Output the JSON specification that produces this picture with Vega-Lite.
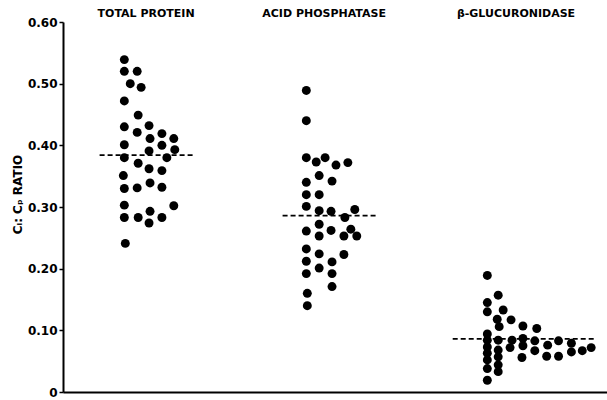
{
  "$schema": "https://vega.github.io/schema/vega-lite/v6.json",
  "width": 544,
  "height": 370,
  "autosize": "none",
  "padding": {"left": 63, "top": 22, "right": 0, "bottom": 8},
  "background": "white",
  "config": {"view": {"stroke": null}, "font": "DejaVu Sans"},
  "datasets": {
    "points": [
      {"group": "TOTAL PROTEIN", "pos": 62, "ratio": 0.539},
      {"group": "TOTAL PROTEIN", "pos": 62, "ratio": 0.520},
      {"group": "TOTAL PROTEIN", "pos": 75, "ratio": 0.520},
      {"group": "TOTAL PROTEIN", "pos": 68, "ratio": 0.500},
      {"group": "TOTAL PROTEIN", "pos": 79, "ratio": 0.494},
      {"group": "TOTAL PROTEIN", "pos": 62, "ratio": 0.472},
      {"group": "TOTAL PROTEIN", "pos": 76, "ratio": 0.449},
      {"group": "TOTAL PROTEIN", "pos": 62, "ratio": 0.430},
      {"group": "TOTAL PROTEIN", "pos": 87, "ratio": 0.432},
      {"group": "TOTAL PROTEIN", "pos": 75, "ratio": 0.421},
      {"group": "TOTAL PROTEIN", "pos": 100, "ratio": 0.419},
      {"group": "TOTAL PROTEIN", "pos": 88, "ratio": 0.411},
      {"group": "TOTAL PROTEIN", "pos": 112, "ratio": 0.411},
      {"group": "TOTAL PROTEIN", "pos": 62, "ratio": 0.401},
      {"group": "TOTAL PROTEIN", "pos": 100, "ratio": 0.400},
      {"group": "TOTAL PROTEIN", "pos": 87, "ratio": 0.391},
      {"group": "TOTAL PROTEIN", "pos": 113, "ratio": 0.393},
      {"group": "TOTAL PROTEIN", "pos": 62, "ratio": 0.380},
      {"group": "TOTAL PROTEIN", "pos": 105, "ratio": 0.380},
      {"group": "TOTAL PROTEIN", "pos": 76, "ratio": 0.371},
      {"group": "TOTAL PROTEIN", "pos": 87, "ratio": 0.362},
      {"group": "TOTAL PROTEIN", "pos": 100, "ratio": 0.359},
      {"group": "TOTAL PROTEIN", "pos": 61, "ratio": 0.351},
      {"group": "TOTAL PROTEIN", "pos": 62, "ratio": 0.330},
      {"group": "TOTAL PROTEIN", "pos": 75, "ratio": 0.331},
      {"group": "TOTAL PROTEIN", "pos": 88, "ratio": 0.339},
      {"group": "TOTAL PROTEIN", "pos": 100, "ratio": 0.332},
      {"group": "TOTAL PROTEIN", "pos": 62, "ratio": 0.303},
      {"group": "TOTAL PROTEIN", "pos": 112, "ratio": 0.302},
      {"group": "TOTAL PROTEIN", "pos": 62, "ratio": 0.283},
      {"group": "TOTAL PROTEIN", "pos": 76, "ratio": 0.283},
      {"group": "TOTAL PROTEIN", "pos": 88, "ratio": 0.293},
      {"group": "TOTAL PROTEIN", "pos": 100, "ratio": 0.283},
      {"group": "TOTAL PROTEIN", "pos": 87, "ratio": 0.274},
      {"group": "TOTAL PROTEIN", "pos": 63, "ratio": 0.241},
      {"group": "ACID PHOSPHATASE", "pos": 246, "ratio": 0.489},
      {"group": "ACID PHOSPHATASE", "pos": 246, "ratio": 0.440},
      {"group": "ACID PHOSPHATASE", "pos": 246, "ratio": 0.380},
      {"group": "ACID PHOSPHATASE", "pos": 256, "ratio": 0.373},
      {"group": "ACID PHOSPHATASE", "pos": 265, "ratio": 0.380},
      {"group": "ACID PHOSPHATASE", "pos": 276, "ratio": 0.368},
      {"group": "ACID PHOSPHATASE", "pos": 288, "ratio": 0.372},
      {"group": "ACID PHOSPHATASE", "pos": 259, "ratio": 0.351},
      {"group": "ACID PHOSPHATASE", "pos": 272, "ratio": 0.342},
      {"group": "ACID PHOSPHATASE", "pos": 246, "ratio": 0.340},
      {"group": "ACID PHOSPHATASE", "pos": 246, "ratio": 0.320},
      {"group": "ACID PHOSPHATASE", "pos": 259, "ratio": 0.320},
      {"group": "ACID PHOSPHATASE", "pos": 246, "ratio": 0.301},
      {"group": "ACID PHOSPHATASE", "pos": 259, "ratio": 0.294},
      {"group": "ACID PHOSPHATASE", "pos": 271, "ratio": 0.293},
      {"group": "ACID PHOSPHATASE", "pos": 295, "ratio": 0.296},
      {"group": "ACID PHOSPHATASE", "pos": 285, "ratio": 0.283},
      {"group": "ACID PHOSPHATASE", "pos": 259, "ratio": 0.272},
      {"group": "ACID PHOSPHATASE", "pos": 246, "ratio": 0.261},
      {"group": "ACID PHOSPHATASE", "pos": 271, "ratio": 0.262},
      {"group": "ACID PHOSPHATASE", "pos": 259, "ratio": 0.253},
      {"group": "ACID PHOSPHATASE", "pos": 291, "ratio": 0.264},
      {"group": "ACID PHOSPHATASE", "pos": 284, "ratio": 0.253},
      {"group": "ACID PHOSPHATASE", "pos": 297, "ratio": 0.253},
      {"group": "ACID PHOSPHATASE", "pos": 246, "ratio": 0.232},
      {"group": "ACID PHOSPHATASE", "pos": 259, "ratio": 0.224},
      {"group": "ACID PHOSPHATASE", "pos": 284, "ratio": 0.223},
      {"group": "ACID PHOSPHATASE", "pos": 246, "ratio": 0.212},
      {"group": "ACID PHOSPHATASE", "pos": 272, "ratio": 0.211},
      {"group": "ACID PHOSPHATASE", "pos": 259, "ratio": 0.201},
      {"group": "ACID PHOSPHATASE", "pos": 246, "ratio": 0.192},
      {"group": "ACID PHOSPHATASE", "pos": 272, "ratio": 0.192},
      {"group": "ACID PHOSPHATASE", "pos": 272, "ratio": 0.171},
      {"group": "ACID PHOSPHATASE", "pos": 247, "ratio": 0.160},
      {"group": "ACID PHOSPHATASE", "pos": 247, "ratio": 0.140},
      {"group": "β-GLUCURONIDASE", "pos": 429, "ratio": 0.189},
      {"group": "β-GLUCURONIDASE", "pos": 440, "ratio": 0.157},
      {"group": "β-GLUCURONIDASE", "pos": 429, "ratio": 0.145},
      {"group": "β-GLUCURONIDASE", "pos": 429, "ratio": 0.130},
      {"group": "β-GLUCURONIDASE", "pos": 445, "ratio": 0.133},
      {"group": "β-GLUCURONIDASE", "pos": 439, "ratio": 0.118},
      {"group": "β-GLUCURONIDASE", "pos": 453, "ratio": 0.117},
      {"group": "β-GLUCURONIDASE", "pos": 441, "ratio": 0.106},
      {"group": "β-GLUCURONIDASE", "pos": 465, "ratio": 0.107},
      {"group": "β-GLUCURONIDASE", "pos": 479, "ratio": 0.103},
      {"group": "β-GLUCURONIDASE", "pos": 429, "ratio": 0.094},
      {"group": "β-GLUCURONIDASE", "pos": 429, "ratio": 0.084},
      {"group": "β-GLUCURONIDASE", "pos": 440, "ratio": 0.084},
      {"group": "β-GLUCURONIDASE", "pos": 454, "ratio": 0.084},
      {"group": "β-GLUCURONIDASE", "pos": 465, "ratio": 0.087},
      {"group": "β-GLUCURONIDASE", "pos": 477, "ratio": 0.083},
      {"group": "β-GLUCURONIDASE", "pos": 490, "ratio": 0.076},
      {"group": "β-GLUCURONIDASE", "pos": 501, "ratio": 0.083},
      {"group": "β-GLUCURONIDASE", "pos": 514, "ratio": 0.079},
      {"group": "β-GLUCURONIDASE", "pos": 429, "ratio": 0.073},
      {"group": "β-GLUCURONIDASE", "pos": 440, "ratio": 0.068},
      {"group": "β-GLUCURONIDASE", "pos": 452, "ratio": 0.072},
      {"group": "β-GLUCURONIDASE", "pos": 465, "ratio": 0.075},
      {"group": "β-GLUCURONIDASE", "pos": 477, "ratio": 0.067},
      {"group": "β-GLUCURONIDASE", "pos": 489, "ratio": 0.058},
      {"group": "β-GLUCURONIDASE", "pos": 501, "ratio": 0.058},
      {"group": "β-GLUCURONIDASE", "pos": 514, "ratio": 0.065},
      {"group": "β-GLUCURONIDASE", "pos": 525, "ratio": 0.067},
      {"group": "β-GLUCURONIDASE", "pos": 534, "ratio": 0.072},
      {"group": "β-GLUCURONIDASE", "pos": 464, "ratio": 0.056},
      {"group": "β-GLUCURONIDASE", "pos": 429, "ratio": 0.063},
      {"group": "β-GLUCURONIDASE", "pos": 440, "ratio": 0.057},
      {"group": "β-GLUCURONIDASE", "pos": 429, "ratio": 0.052},
      {"group": "β-GLUCURONIDASE", "pos": 440, "ratio": 0.044},
      {"group": "β-GLUCURONIDASE", "pos": 429, "ratio": 0.038},
      {"group": "β-GLUCURONIDASE", "pos": 440, "ratio": 0.033},
      {"group": "β-GLUCURONIDASE", "pos": 429, "ratio": 0.019}
    ],
    "means": [
      {"group": "TOTAL PROTEIN", "start": 37, "end": 134, "ratio": 0.384},
      {"group": "ACID PHOSPHATASE", "start": 222, "end": 317, "ratio": 0.286},
      {"group": "β-GLUCURONIDASE", "start": 394, "end": 537, "ratio": 0.086}
    ],
    "headers": [
      {"label": "TOTAL PROTEIN", "pos": 84, "ratio": 0.613},
      {"label": "ACID PHOSPHATASE", "pos": 264, "ratio": 0.613},
      {"label": "β-GLUCURONIDASE", "pos": 458, "ratio": 0.613}
    ]
  },
  "layer": [
    {
      "data": {"name": "means"},
      "mark": {"type": "rule", "color": "black", "strokeWidth": 1.8, "strokeDash": [5, 3]},
      "encoding": {
        "x": {"field": "start", "type": "quantitative", "scale": {"domain": [0, 544]},
          "axis": {"title": null, "labels": false, "ticks": false, "grid": false, "domainColor": "black", "domainWidth": 2}},
        "x2": {"field": "end"},
        "y": {"field": "ratio", "type": "quantitative", "scale": {"domain": [0, 0.6]},
          "axis": {
            "title": "Cₗ: Cₚ RATIO",
            "values": [0, 0.1, 0.2, 0.3, 0.4, 0.5, 0.6],
            "labelExpr": "datum.value == 0 ? '0' : format(datum.value, '.2f')",
            "labelFontWeight": "bold", "labelFontSize": 12, "labelColor": "black",
            "labelPadding": 2,
            "domainColor": "black", "domainWidth": 2,
            "tickColor": "black", "tickWidth": 1.5, "tickSize": 4,
            "grid": false,
            "titleFontWeight": "bold", "titleFontSize": 12, "titleColor": "black",
            "titlePadding": 3, "titleY": 172
          }}
      }
    },
    {
      "data": {"name": "points"},
      "mark": {"type": "circle", "size": 80, "color": "black", "opacity": 1},
      "encoding": {
        "x": {"field": "pos", "type": "quantitative"},
        "y": {"field": "ratio", "type": "quantitative"}
      }
    },
    {
      "data": {"name": "headers"},
      "mark": {"type": "text", "fontWeight": "bold", "fontSize": 11, "color": "black", "align": "center", "baseline": "middle"},
      "encoding": {
        "x": {"field": "pos", "type": "quantitative"},
        "y": {"field": "ratio", "type": "quantitative"},
        "text": {"field": "label"}
      }
    }
  ]
}
